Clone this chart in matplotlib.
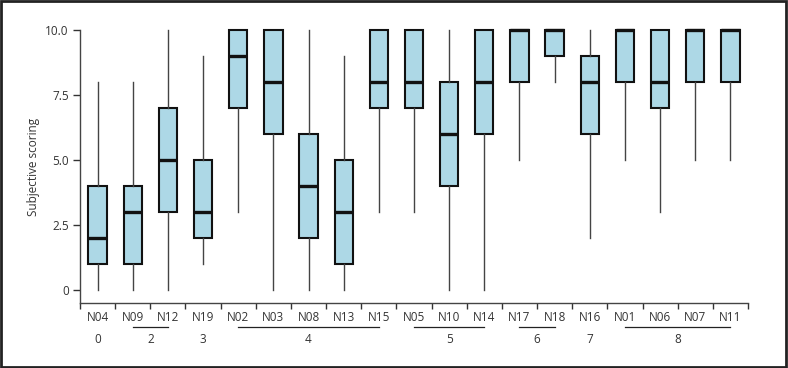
import matplotlib
matplotlib.use("Agg")
import matplotlib.pyplot as plt
from matplotlib.patches import Rectangle

plt.rcParams['font.family'] = ['Open Sans', 'DejaVu Sans']

# data
labels = ['N04', 'N09', 'N12', 'N19', 'N02', 'N03', 'N08', 'N13', 'N15', 'N05',
          'N10', 'N14', 'N17', 'N18', 'N16', 'N01', 'N06', 'N07', 'N11']
whis_lo = [0, 0, 0, 1, 3, 0, 0, 0, 3, 3, 0, 0, 5, 8, 2, 5, 3, 5, 5]
q1 = [1, 1, 3, 2, 7, 6, 2, 1, 7, 7, 4, 6, 8, 9, 6, 8, 7, 8, 8]
med = [2, 3, 5, 3, 9, 8, 4, 3, 8, 8, 6, 8, 10, 10, 8, 10, 8, 10, 10]
q3 = [4, 4, 7, 5, 10, 10, 6, 5, 10, 10, 8, 10, 10, 10, 9, 10, 10, 10, 10]
whis_hi = [8, 8, 10, 9, 10, 10, 10, 9, 10, 10, 10, 10, 10, 10, 10, 10, 10, 10, 10]

# groups: (label, first index, last index)
groups = [('0', 0, 0), ('2', 1, 2), ('3', 3, 3), ('4', 4, 8), ('5', 9, 11),
          ('6', 12, 13), ('7', 14, 14), ('8', 15, 18)]

stats = []
for i in range(len(labels)):
    stats.append({'label': labels[i], 'whislo': whis_lo[i], 'q1': q1[i], 'med': med[i],
                  'q3': q3[i], 'whishi': whis_hi[i], 'fliers': []})

fig = plt.figure(figsize=(7.88, 3.68), dpi=100)
ax = fig.add_axes([80 / 788, 1 - 303 / 368, 668 / 788, 273 / 368])

pos = list(range(len(labels)))
res = ax.bxp(stats, positions=pos, widths=0.52, patch_artist=True, showcaps=False,
             boxprops=dict(facecolor='#add8e6', edgecolor='#111111', linewidth=1.5),
             medianprops=dict(color='#111111', linewidth=2.4),
             whiskerprops=dict(color='#444444', linewidth=1.0))
for art in res['boxes'] + res['medians'] + res['whiskers']:
    art.set_clip_on(False)

ax.set_xlim(-0.5, len(labels) - 0.5)
ax.set_ylim(-0.5, 10)
ax.set_yticks([0, 2.5, 5, 7.5, 10])
ax.set_yticklabels(['0', '2.5', '5.0', '7.5', '10.0'])
ax.set_xticks(pos)
ax.set_xticklabels(labels)
ax.tick_params(axis='x', which='major', length=0, pad=6, labelsize=8.5, colors='#333333')
ax.set_xticks([p - 0.5 for p in pos] + [len(labels) - 0.5], minor=True)
ax.tick_params(axis='x', which='minor', length=4, width=1, color='#333333')
ax.tick_params(axis='y', length=5, width=1, labelsize=8.5, colors='#333333', pad=3)

for s in ['top', 'right']:
    ax.spines[s].set_visible(False)
ax.spines['left'].set_bounds(-0.5, 10)
for s in ['left', 'bottom']:
    ax.spines[s].set_color('#444444')
    ax.spines[s].set_linewidth(1.0)

ax.set_ylabel('Subjective scoring', fontsize=8.5, color='#333333')
ax.yaxis.set_label_coords(-40 / 668, 0.5)

# group brackets and numbers under the tick labels
tr = ax.get_xaxis_transform()
for name, a, b in groups:
    if b > a:
        ax.plot([a, b], [-0.087, -0.087], color='#222222', lw=0.9, transform=tr, clip_on=False)
    ax.text((a + b) / 2, -0.132, name, transform=tr, ha='center', va='center',
            fontsize=8.5, color='#333333')

# frame around the figure
fig.patches.append(Rectangle((0.001, 0.002), 0.997, 0.995, transform=fig.transFigure,
                             fill=False, edgecolor='#222222', linewidth=2))

fig.savefig('out.png', dpi=100)
